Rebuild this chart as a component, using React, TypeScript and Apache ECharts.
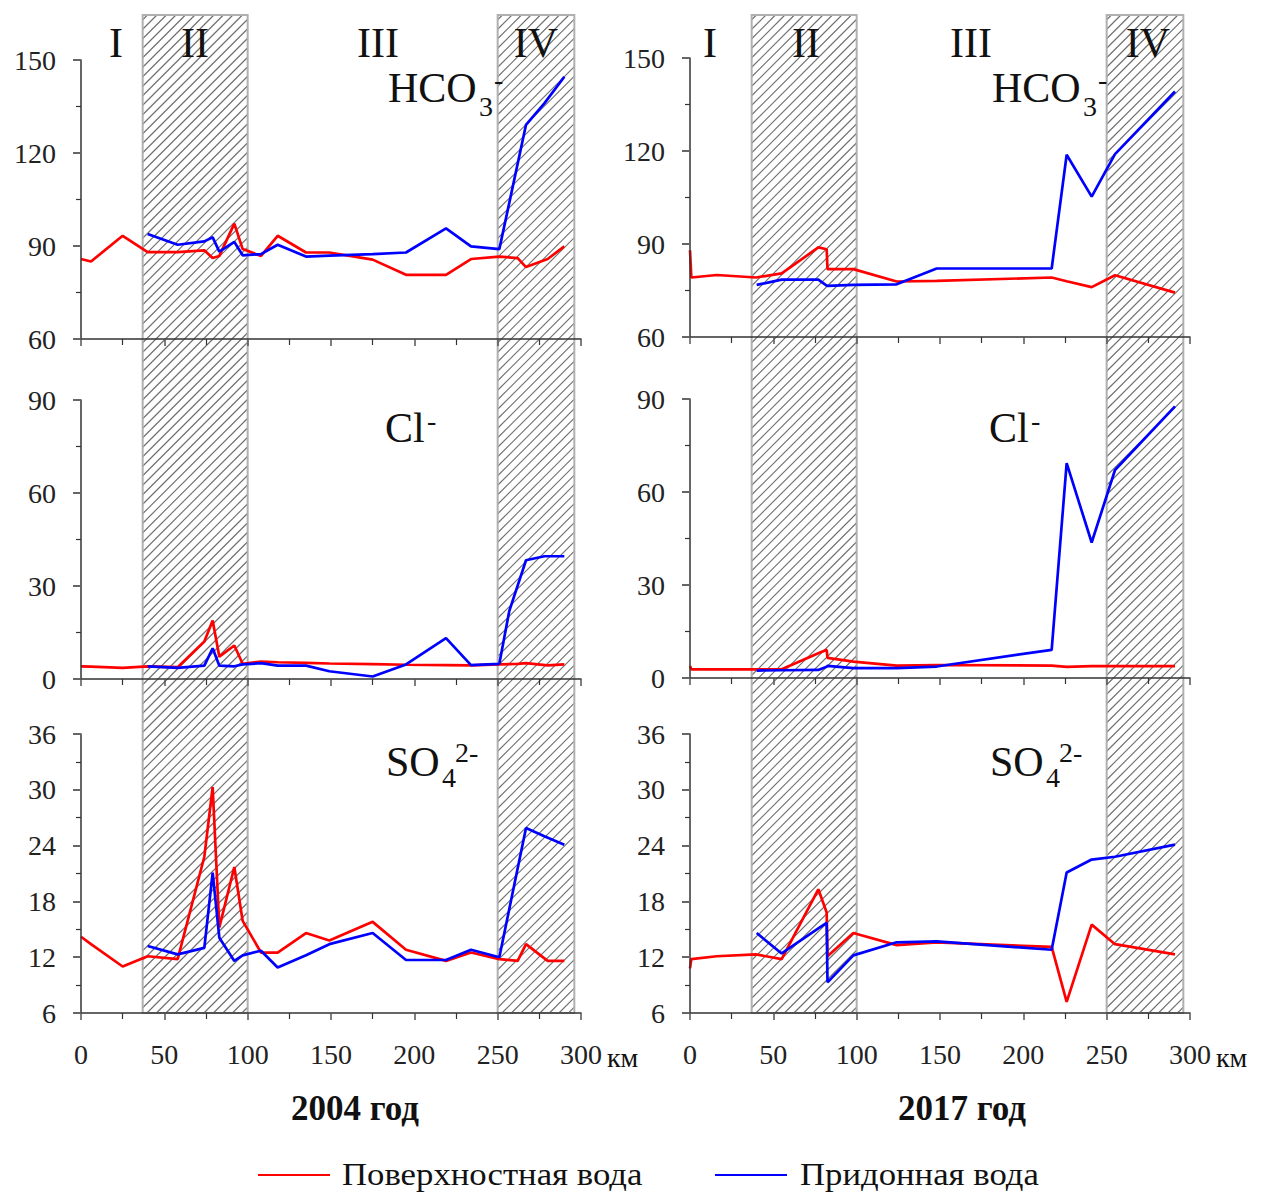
import React, { useEffect, useRef } from 'react';
import * as echarts from 'echarts';

const FONT = '"Liberation Serif", "Times New Roman", serif';
const RED = '#ff0000';
const BLUE = '#0000ff';
const SURF = 'Поверхностная вода';
const BOTT = 'Придонная вода';

// ---------- 2004 ----------
const km04Surface = [0, 6, 25, 40, 58, 74, 79, 83, 92, 97, 108, 118, 135, 149, 175, 195, 219, 234, 251, 262, 267, 280, 290];
const hco3Surface04 = [85.8, 85.0, 93.3, 88.0, 88.0, 88.6, 86.1, 86.8, 97.2, 89.0, 86.8, 93.3, 87.9, 87.9, 85.6, 80.7, 80.7, 85.8, 86.6, 86.1, 83.2, 85.8, 89.9];
const clSurface04 = [4.1, 4.0, 3.6, 4.1, 3.8, 12.1, 18.9, 7.2, 10.8, 4.9, 5.6, 5.4, 5.2, 5.0, 4.8, 4.6, 4.5, 4.4, 4.7, 4.9, 5.1, 4.4, 4.7];
const so4Surface04 = [14.2, 13.4, 11.0, 12.1, 11.8, 22.8, 30.3, 15.2, 21.7, 15.9, 12.5, 12.5, 14.6, 13.8, 15.8, 12.8, 11.6, 12.5, 11.8, 11.6, 13.4, 11.6, 11.6];

const km04Bottom = [40, 58, 74, 79, 83, 92, 97, 108, 118, 135, 149, 175, 195, 219, 234, 251, 257, 267, 278, 290];
const hco3Bottom04 = [93.9, 90.4, 91.5, 92.8, 88.2, 91.3, 87.0, 87.4, 90.4, 86.6, 86.9, 87.4, 87.9, 95.7, 89.9, 89.0, 104, 129.1, 136, 144.6];
const clBottom04 = [4.1, 3.6, 4.3, 9.9, 4.3, 4.1, 4.7, 5.1, 4.3, 4.3, 2.5, 0.8, 4.7, 13.2, 4.5, 4.9, 22.0, 38.3, 39.6, 39.6];
const so4Bottom04 = [13.2, 12.3, 13.0, 21.1, 14.1, 11.6, 12.2, 12.7, 10.9, 12.2, 13.4, 14.6, 11.7, 11.7, 12.8, 12.0, 17.2, 25.9, 25.0, 24.1];

// ---------- 2017 ----------
const km17Surface = [0, 0.8, 16, 39.6, 55, 77, 82, 82.5, 98, 124, 148, 217, 226, 241, 255, 291];
const hco3Surface17 = [88.0, 79.2, 80.0, 79.2, 80.5, 88.9, 88.3, 81.9, 81.9, 77.9, 78.1, 79.2, 78.0, 76.1, 79.9, 74.3];
const clSurface17 = [3.9, 2.8, 2.8, 2.8, 2.8, 8.0, 9.1, 6.5, 5.3, 4.0, 4.2, 4.0, 3.6, 3.8, 3.8, 3.8];
const so4Surface17 = [10.8, 11.8, 12.1, 12.3, 11.8, 19.3, 16.8, 12.1, 14.6, 13.3, 13.6, 13.1, 7.2, 15.5, 13.4, 12.3];

const km17Bottom = [40, 55, 77, 82, 82.5, 98, 124, 148, 217, 226, 241, 255, 291];
const hco3Bottom17 = [76.8, 78.5, 78.5, 76.6, 76.5, 76.8, 77.0, 82.1, 82.1, 118.8, 105.3, 119.0, 139.2];
const clBottom17 = [2.4, 2.5, 2.6, 3.6, 3.9, 3.2, 3.2, 3.7, 9.1, 69.3, 43.7, 67.1, 87.6];
const so4Bottom17 = [14.6, 12.4, 15.1, 15.7, 9.3, 12.2, 13.6, 13.7, 12.8, 21.1, 22.5, 22.8, 24.1];

// zones (km): II and IV are hatched
const hatchedZones = [[37, 100], [250, 296]];
const zoneNames = ['I', 'II', 'III', 'IV'];
const yearTitles = ['2004 год', '2017 год'];

// y axis ranges per row
const yRanges = [
  { min: 60, max: 150, interval: 30 },
  { min: 0, max: 90, interval: 30 },
  { min: 6, max: 36, interval: 6 },
];

const zip = (xs: number[], ys: number[]) => xs.map((x, i) => [x, ys[i]]);

export default function App() {
  const ref = useRef<HTMLDivElement>(null);

  useEffect(() => {
    const chart = echarts.init(ref.current!, undefined, { renderer: 'svg' });

    const colLeft = [81, 690];
    const rowTops = [[60, 400, 734], [58, 399, 734]];
    const W = 500;
    const H = 279;
    const BAND_TOP = 15;
    const HATCH = 9.5;

    const grids: any[] = [];
    const xAxes: any[] = [];
    const yAxes: any[] = [];
    for (let c = 0; c < 2; c++) {
      for (let r = 0; r < 3; r++) {
        const idx = c * 3 + r;
        grids.push({ left: colLeft[c], top: rowTops[c][r], width: W, height: H, containLabel: false, outerBoundsMode: 'none' });
        xAxes.push({
          gridIndex: idx, type: 'value', min: 0, max: 300, interval: 50, z: 5,
          axisLine: { show: true, onZero: false, lineStyle: { color: '#333', width: 1.5 } },
          axisTick: { show: true, length: 7, lineStyle: { color: '#555', width: 1.5 } },
          minorTick: { show: true, splitNumber: 2, length: 6, lineStyle: { color: '#333', width: 1.2 } },
          splitLine: { show: false }, minorSplitLine: { show: false },
          axisLabel: { show: r === 2, fontFamily: 'Liberation Serif', fontSize: 28, color: '#222', margin: 27 },
        });
        yAxes.push({
          gridIndex: idx, type: 'value', ...yRanges[r], z: 5,
          axisLine: { show: true, onZero: false, lineStyle: { color: '#333', width: 1.5 } },
          axisTick: { show: true, length: 8, lineStyle: { color: '#666', width: 2 } },
          minorTick: { show: true, splitNumber: 2, length: 5, lineStyle: { color: '#333', width: 1.2 } },
          splitLine: { show: false }, minorSplitLine: { show: false },
          axisLabel: { fontFamily: 'Liberation Serif', fontSize: 28, color: '#222', margin: 25 },
        });
      }
    }

    const seriesData = [
      [[km04Surface, hco3Surface04, km04Bottom, hco3Bottom04], [km04Surface, clSurface04, km04Bottom, clBottom04], [km04Surface, so4Surface04, km04Bottom, so4Bottom04]],
      [[km17Surface, hco3Surface17, km17Bottom, hco3Bottom17], [km17Surface, clSurface17, km17Bottom, clBottom17], [km17Surface, so4Surface17, km17Bottom, so4Bottom17]],
    ];

    const series: any[] = [];
    for (let c = 0; c < 2; c++) {
      const bi = c * 3 + 2;
      series.push({
        type: 'custom', xAxisIndex: bi, yAxisIndex: bi, z: 1, silent: true, clip: false,
        data: hatchedZones,
        encode: { x: [0, 1], y: -1 },
        renderItem: (params: any, api: any) => {
          const yMin = yRanges[2].min;
          const x0 = api.coord([api.value(0), yMin])[0];
          const x1 = api.coord([api.value(1), yMin])[0];
          const yB = api.coord([api.value(0), yMin])[1];
          const yT = BAND_TOP;
          const children: any[] = [];
          for (let k = x0 + yT + HATCH / 2; k < x1 + yB; k += HATCH) {
            const xa = Math.max(x0, k - yB);
            const xb = Math.min(x1, k - yT);
            if (xb > xa) {
              children.push({
                type: 'line',
                shape: { x1: xa, y1: k - xa, x2: xb, y2: k - xb },
                style: { stroke: '#6e6e6e', lineWidth: 1.1 },
              });
            }
          }
          children.push({
            type: 'rect',
            shape: { x: x0, y: yT, width: x1 - x0, height: yB - yT },
            style: { fill: 'none', stroke: '#b0b0b0', lineWidth: 2 },
          });
          return { type: 'group', children };
        },
      });
      for (let r = 0; r < 3; r++) {
        const idx = c * 3 + r;
        const [ks, vs, kb, vb] = seriesData[c][r];
        series.push({
          type: 'line', name: SURF, xAxisIndex: idx, yAxisIndex: idx, z: 3,
          data: zip(ks, vs), symbol: 'none', showSymbol: false,
          lineStyle: { color: RED, width: 2.7 }, itemStyle: { color: RED },
        });
        series.push({
          type: 'line', name: BOTT, xAxisIndex: idx, yAxisIndex: idx, z: 4,
          data: zip(kb, vb), symbol: 'none', showSymbol: false,
          lineStyle: { color: BLUE, width: 2.7 }, itemStyle: { color: BLUE },
        });
      }
    }

    const txt = (text: string, x: number, y: number, size: number, align = 'left', weight = 'normal', sx = 1) => ({
      type: 'text', z: 10, silent: true, x, y, scaleX: sx,
      style: { text, x: 0, y: 0, fontSize: size, fontFamily: FONT, fontWeight: weight, fill: '#111', textAlign: align, textVerticalAlign: 'middle', verticalAlign: 'middle' },
    });

    const zoneX = [[116, 195, 378, 536], [710, 806, 971, 1148]];
    const graphics: any[] = [];
    for (let c = 0; c < 2; c++) {
      zoneNames.forEach((n, i) => graphics.push(txt(n, zoneX[c][i], 43, 42, 'center')));
    }
    const ionX = [386, 990];
    for (let c = 0; c < 2; c++) {
      const x = ionX[c];
      graphics.push(txt('HCO', x + 2, 88, 42));
      graphics.push(txt('3', x + 93, 106, 28));
      graphics.push(txt('-', x + 108, 79, 28));
      graphics.push(txt('Cl', x - 1, 428, 42));
      graphics.push(txt('-', x + 41, 420, 28));
      graphics.push(txt('SO', x, 762, 42));
      graphics.push(txt('4', x + 56, 777, 28));
      graphics.push(txt('2-', x + 69, 752, 28));
    }
    graphics.push(txt('км', 607, 1057, 28));
    graphics.push(txt('км', 1216, 1057, 28));
    graphics.push(txt(yearTitles[0], 355, 1108, 35, 'center', 'bold'));
    graphics.push(txt(yearTitles[1], 962, 1108, 35, 'center', 'bold'));

    // legend (drawn as graphic: plain line keys + labels)
    const legendY = 1175;
    graphics.push({ type: 'line', silent: true, shape: { x1: 258, y1: legendY, x2: 330, y2: legendY }, style: { stroke: RED, lineWidth: 2 } });
    graphics.push(txt(SURF, 342, legendY, 31, 'left', 'normal', 1.12));
    graphics.push({ type: 'line', silent: true, shape: { x1: 715, y1: legendY, x2: 787, y2: legendY }, style: { stroke: BLUE, lineWidth: 2 } });
    graphics.push(txt(BOTT, 800, legendY, 31, 'left', 'normal', 1.12));

    chart.setOption({
      animation: false,
      backgroundColor: '#ffffff',
      textStyle: { fontFamily: 'Liberation Serif' },
      grid: grids,
      xAxis: xAxes,
      yAxis: yAxes,
      series,
      legend: { show: false },
      tooltip: { show: false },
      graphic: graphics,
    });

    return () => chart.dispose();
  }, []);

  return <div ref={ref} style={{ position: 'absolute', left: 0, top: 0, width: 1262, height: 1193 }} />;
}
